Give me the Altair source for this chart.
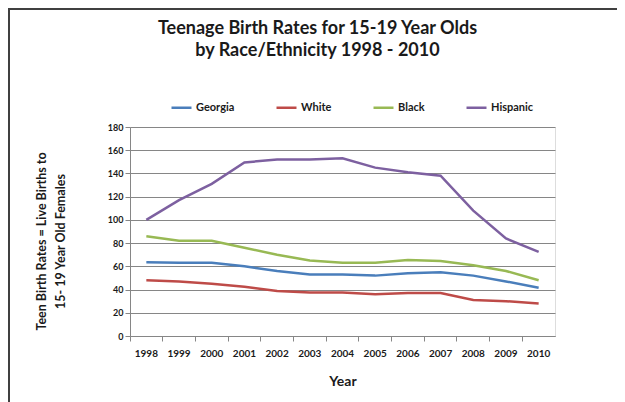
import altair as alt
import pandas as pd

years = [1998, 1999, 2000, 2001, 2002, 2003, 2004, 2005, 2006, 2007, 2008, 2009, 2010]
georgia = [63.6, 63, 63, 60, 56, 53, 53, 52, 54, 55, 52, 47, 41.5]
white = [48, 47, 45, 42.4, 38.7, 37.5, 37.5, 36, 37, 37, 31, 30, 28]
black = [86, 82, 82, 76, 70, 65, 63, 63, 65.5, 64.5, 61, 56, 48]
hispanic = [100, 117, 131, 149.5, 152, 152, 153, 145, 141, 138, 108, 84, 72.5]

series = ["Georgia", "White", "Black", "Hispanic"]
colors = ["#4A7EBB", "#BE4B48", "#98B954", "#7D60A0"]

rows = []
for name, vals in zip(series, [georgia, white, black, hispanic]):
    for y, v in zip(years, vals):
        rows.append({"Year": str(y), "Rate": v, "Series": name})
df = pd.DataFrame(rows)

FONT = "Lato"
DARK = "#1a1a1a"
GRID = "#868686"

axis_style = dict(labelFont=FONT, titleFont=FONT, labelFontWeight="bold",
                  titleFontWeight="bold", labelColor=DARK, titleColor=DARK,
                  domainColor=GRID, tickColor=GRID, gridColor=GRID, gridOpacity=1)

lines = alt.Chart(df).mark_line(strokeWidth=2.5).encode(
    x=alt.X("Year:O",
            scale=alt.Scale(type="band", paddingInner=0, paddingOuter=0),
            axis=alt.Axis(title="Year", labelAngle=0, bandPosition=0, tickSize=5,
                          labelPadding=7, titlePadding=16, titleFontSize=14,
                          labelFontSize=10, grid=False, **axis_style)),
    y=alt.Y("Rate:Q", scale=alt.Scale(domain=[0, 180]),
            axis=alt.Axis(values=list(range(0, 181, 20)), tickSize=5, labelPadding=2,
                          labelFontSize=9,
                          title=["Teen Birth Rates = Live Births to", "15- 19 Year Old Females"],
                          titleAngle=-90, titleX=-95, titleY=114, titleBaseline="top",
                          titleAlign="center", titleLineHeight=19, titleFontSize=12.5,
                          **axis_style)),
    color=alt.Color("Series:N", scale=alt.Scale(domain=series, range=colors),
                    legend=alt.Legend(title=None, orient="none", legendX=40, legendY=-31,
                                      direction="horizontal", columns=4,
                                      symbolType="stroke", symbolSize=400,
                                      symbolStrokeWidth=2.5, labelFontSize=11,
                                      labelFont=FONT, labelFontWeight="bold",
                                      labelColor=DARK, labelOffset=3,
                                      columnPadding=36)),
)

frame_top = alt.Chart(df).mark_rule(color="#404040", strokeWidth=2).encode(
    x=alt.value(-122), x2=alt.value(487), y=alt.value(-118))
frame_left = alt.Chart(df).mark_rule(color="#404040", strokeWidth=2).encode(
    x=alt.value(-121), y=alt.value(-119), y2=alt.value(285))

chart = alt.layer(lines, frame_top, frame_left).properties(
    width=425, height=209,
    padding={"left": 122, "top": 119, "right": 62, "bottom": 72},
    autosize=alt.AutoSizeParams(type="none"),
    title=alt.TitleParams(
        ["Teenage Birth Rates for 15-19 Year Olds", "by Race/Ethnicity 1998 - 2010"],
        anchor="middle", dx=-25, fontSize=18, lineHeight=22, font=FONT,
        fontWeight="bold", color=DARK, offset=-53),
).configure_view(stroke=None).configure(background="white")

chart.save("out.html", embed_options={"renderer": "svg", "actions": False})
